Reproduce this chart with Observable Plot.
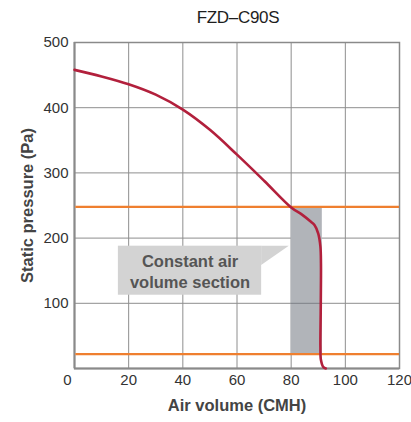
<!DOCTYPE html>
<html>
<head>
<meta charset="utf-8">
<script src="https://cdn.jsdelivr.net/npm/d3@7"></script>
<script src="https://cdn.jsdelivr.net/npm/@observablehq/plot@0.6"></script>
<style>
  html, body { margin: 0; padding: 0; background: #fff; }
  #title { width: 411px; height: 34px; box-sizing: border-box; padding-left: 65px; padding-top: 8px;
           text-align: center; font: 17px "Liberation Sans", Arial, sans-serif; color: #1e1e1e; letter-spacing: -0.3px; line-height: 20px; }
</style>
</head>
<body>
<div id="title"></div>
<div id="chart"></div>
<script>
const title = "FZD–C90S";
const xLabel = "Air volume (CMH)";
const yLabel = "Static pressure (Pa)";
const xTicks = [0, 20, 40, 60, 80, 100, 120];
const yTicks = [100, 200, 300, 400, 500];
// fan curve: air volume (CMH) vs static pressure (Pa)
const airVolume = [0, 10, 20, 30, 40, 50, 60, 70, 80, 84, 87.3, 88.6, 90, 90.8, 91, 91, 90.9, 90.8, 91, 91.9, 92.8];
const pressure  = [458, 448, 436, 420, 397, 366, 328, 288, 247, 236, 225, 220, 207, 187, 161, 136, 84, 33, 13, 2, 0];
// constant air volume band limits
const limitPressures = [248, 22];
const sectionVolume = [80, 91.5];
const sectionPressure = [22, 248];
// callout annotation
const calloutText = ["Constant air", "volume section"];
const calloutBox = {x1: 16.2, x2: 69.1, y1: 112.4, y2: 187.6};
const calloutTip = [{x: 69.1, y1: 158, y2: 187.6}, {x: 79.3, y1: 187.6, y2: 187.6}];

document.getElementById("title").textContent = title;
const curve = airVolume.map((x, i) => ({x, y: pressure[i]}));
const font = '"Liberation Sans", Arial, sans-serif';

const chart = Plot.plot({
  width: 411,
  height: 388,
  marginLeft: 74,
  marginRight: 12,
  marginTop: 8,
  marginBottom: 54,
  style: {fontFamily: font, fontSize: "15px", color: "#333", background: "#fff"},
  x: {domain: [0, 120]},
  y: {domain: [0, 500]},
  marks: [
    Plot.gridX(xTicks.slice(1, -1), {stroke: "#8e8e8e", strokeOpacity: 1, strokeWidth: 1}),
    Plot.gridY(yTicks.slice(0, -1), {stroke: "#8e8e8e", strokeOpacity: 1, strokeWidth: 1}),
    Plot.rect([sectionVolume], {x1: d => d[0], x2: d => d[1], y1: sectionPressure[0], y2: sectionPressure[1], fill: "#b1b4b9"}),
    Plot.gridY([100], {x1: sectionVolume[0], x2: sectionVolume[1], stroke: "#7d8086", strokeOpacity: 1}),
    Plot.rect([calloutBox], {x1: "x1", x2: "x2", y1: "y1", y2: "y2", fill: "#d3d3d3"}),
    Plot.areaY(calloutTip, {x: "x", y1: "y1", y2: "y2", fill: "#d3d3d3", curve: "linear"}),
    Plot.text([calloutText.join("\n")], {
      x: (calloutBox.x1 + calloutBox.x2) / 2, y: (calloutBox.y1 + calloutBox.y2) / 2,
      text: d => d, fontSize: 16.5, fontWeight: "bold", fill: "#555", lineHeight: 1.27
    }),
    Plot.frame({stroke: "#8a8a8a", strokeWidth: 1.5}),
    Plot.ruleX([0], {stroke: "#8a8a8a", strokeWidth: 2}),
    Plot.ruleY([0], {stroke: "#8a8a8a", strokeWidth: 2}),
    Plot.ruleY(limitPressures, {x1: 0.5, x2: 120, stroke: "#ef7f2f", strokeWidth: 2.2}),
    Plot.line(curve, {x: "x", y: "y", stroke: "#b2203c", strokeWidth: 2.6, curve: "catmull-rom"}),
    Plot.axisY(yTicks, {tickSize: 0, tickPadding: 6, label: null, fill: "#333", fontSize: 15}),
    Plot.axisX(xTicks.slice(1), {tickSize: 0, tickPadding: 6, label: null, fill: "#333", fontSize: 15}),
    Plot.axisX([0], {tickSize: 0, tickPadding: 6, label: null, fill: "#333", fontSize: 15, dx: -7}),
    Plot.text([xLabel], {frameAnchor: "bottom", dy: 42, text: d => d, fontWeight: "bold", fontSize: 16.5, fill: "#444"}),
    Plot.text([yLabel], {frameAnchor: "left", dx: -47, rotate: -90, textAnchor: "middle", text: d => d, fontWeight: "bold", fontSize: 16.5, fill: "#444"})
  ]
});
document.getElementById("chart").appendChild(chart);
</script>
</body>
</html>
